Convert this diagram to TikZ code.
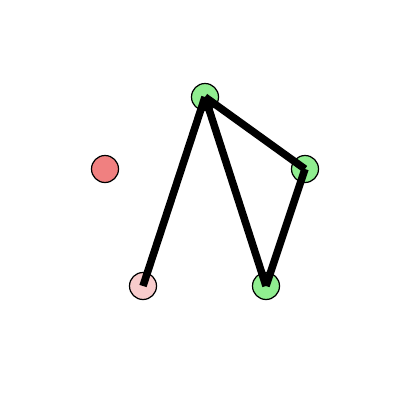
\documentclass[tikz,border=0pt]{standalone}
\usepackage{tikz}
\definecolor{nodegreen}{RGB}{144,238,144}
\definecolor{nodecoral}{RGB}{240,128,128}
\definecolor{nodepink}{RGB}{248,204,204}

\begin{document}
\begin{tikzpicture}[x=0.01cm, y=-0.01cm,
    vertex/.style={circle, draw=black, line width=0.35pt, minimum size=0.27cm, inner sep=0pt},
    edge/.style={draw, line width=0.075cm}]
    \useasboundingbox (0,0) rectangle (400,400);
    \node [vertex, fill=nodegreen] (top) at (205,97) {};
    \node [vertex, fill=nodecoral] (left) at (105,169) {};
    \node [vertex, fill=nodegreen] (right) at (305,169) {};
    \node [vertex, fill=nodepink] (lowleft) at (143,286) {};
    \node [vertex, fill=nodegreen] (lowright) at (266,286) {};
    \path [edge] (top.center) -- (lowleft.center);
    \path [edge] (top.center) -- (lowright.center);
    \path [edge] (top.center) -- (right.center);
    \path [edge] (right.center) -- (lowright.center);
\end{tikzpicture}
\end{document}
